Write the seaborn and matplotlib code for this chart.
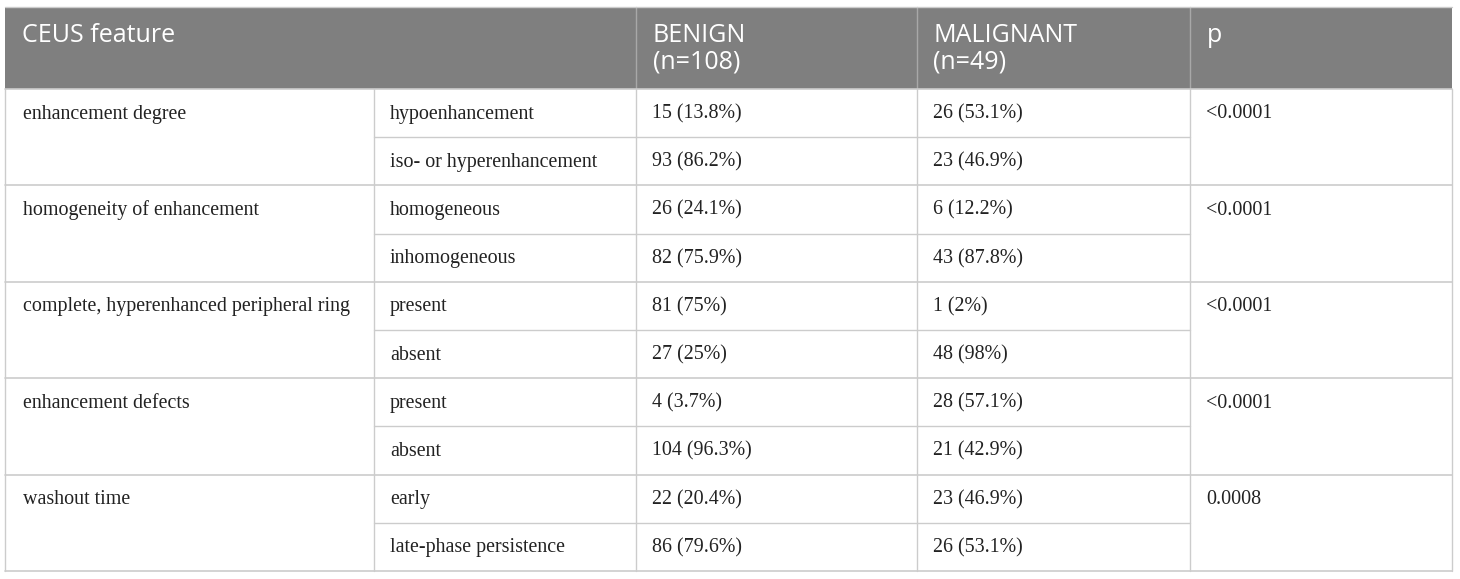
import numpy as np
import seaborn as sns
import matplotlib.pyplot as plt
from matplotlib.patches import Rectangle

# table content
headers = [["CEUS feature"], [], ["BENIGN", "(n=108)"], ["MALIGNANT", "(n=49)"], ["p"]]
features = ["enhancement degree", "homogeneity of enhancement",
            "complete, hyperenhanced peripheral ring", "enhancement defects",
            "washout time"]
levels = [["hypoenhancement", "iso- or hyperenhancement"],
          ["homogeneous", "inhomogeneous"],
          ["present", "absent"],
          ["present", "absent"],
          ["early", "late-phase persistence"]]
benign = [["15 (13.8%)", "93 (86.2%)"],
          ["26 (24.1%)", "82 (75.9%)"],
          ["81 (75%)", "27 (25%)"],
          ["4 (3.7%)", "104 (96.3%)"],
          ["22 (20.4%)", "86 (79.6%)"]]
malignant = [["26 (53.1%)", "23 (46.9%)"],
             ["6 (12.2%)", "43 (87.8%)"],
             ["1 (2%)", "48 (98%)"],
             ["28 (57.1%)", "21 (42.9%)"],
             ["23 (46.9%)", "26 (53.1%)"]]
p_values = ["<0.0001", "<0.0001", "<0.0001", "<0.0001", "0.0008"]

sns.set_style("white")

W, H = 1460, 579
fig = plt.figure(figsize=(W / 100, H / 100), dpi=100)
ax = fig.add_axes([0, 0, 1, 1])
ax.set_xlim(0, W)
ax.set_ylim(H, 0)
ax.axis("off")

col_x = [5, 374, 636, 917, 1190, 1452]
top, head_bot, bottom = 7, 89, 571
row_h = (bottom - head_bot) / 10
pad = 16
line_c = "#cccccc"
head_c = "#7f7f7f"

# header
ax.add_patch(Rectangle((col_x[0], top), col_x[-1] - col_x[0], head_bot - top,
                       facecolor=head_c, edgecolor="none"))
for x in col_x[2:-1]:
    ax.plot([x, x], [top, head_bot], color="#a8a8a8", lw=1)
for i, lines in enumerate(headers):
    for k, h in enumerate(lines):
        ax.text(col_x[i] + pad + 0.5, 42.5 + k * 26, h, color="white",
                fontsize=18, family="Open Sans", va="baseline", ha="left")

# body grid
ax.plot([col_x[0], col_x[-1]], [top, top], color=line_c, lw=1)
for g in range(6):
    y = head_bot + 2 * g * row_h
    ax.plot([col_x[0], col_x[-1]], [y, y], color=line_c, lw=1.2)
for g in range(5):
    y = head_bot + (2 * g + 1) * row_h
    ax.plot([col_x[1], col_x[4]], [y, y], color=line_c, lw=1)
for x in col_x:
    ax.plot([x, x], [head_bot, bottom], color=line_c, lw=1)

# body text
body_font = dict(fontsize=14.4, family="Liberation Serif", color="#222222",
                 va="baseline", ha="left")
for g in range(5):
    y0 = head_bot + 2 * g * row_h + 29.5
    ax.text(col_x[0] + pad + 2, y0, features[g], **body_font)
    ax.text(col_x[4] + pad, y0, p_values[g], **body_font)
    for r in range(2):
        y = y0 + r * row_h
        ax.text(col_x[1] + pad, y, levels[g][r], **body_font)
        ax.text(col_x[2] + pad, y, benign[g][r], **body_font)
        ax.text(col_x[3] + pad, y, malignant[g][r], **body_font)

fig.savefig("out.png", dpi=100)
